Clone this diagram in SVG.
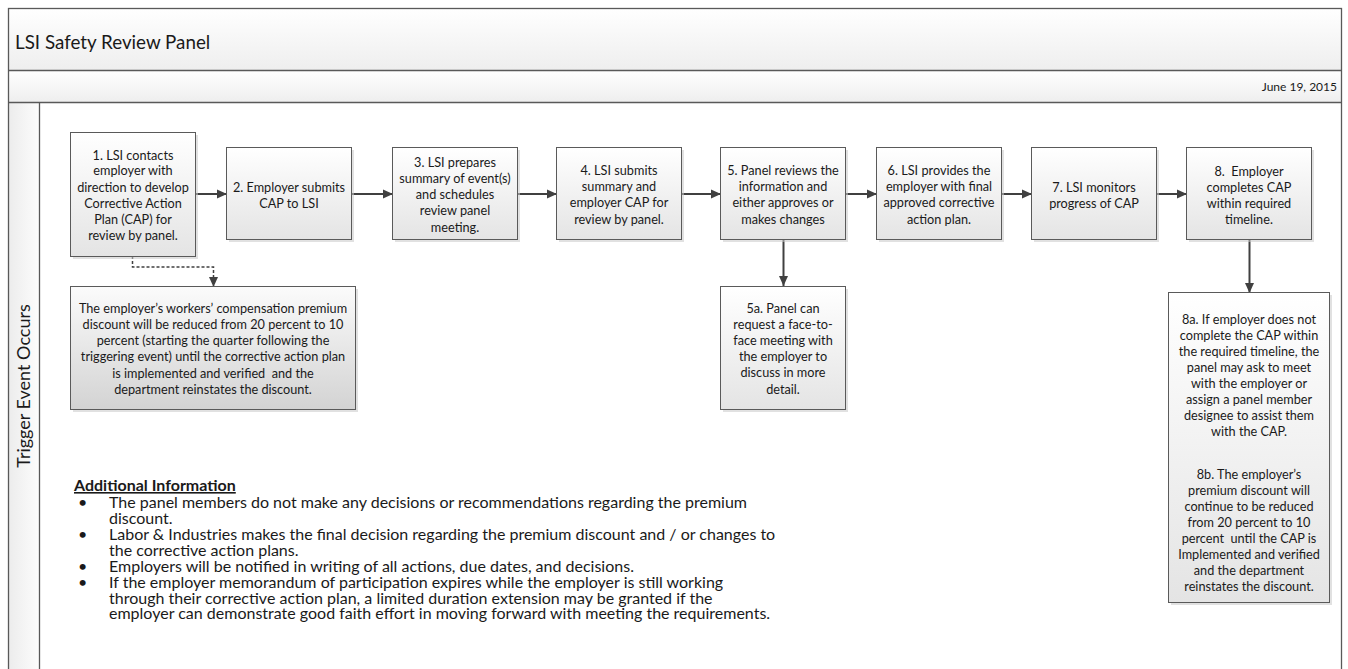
<svg xmlns="http://www.w3.org/2000/svg" width="1348" height="669" viewBox="0 0 1348 669">
<style>
.t{font-family:Lato,"Liberation Sans","Noto Sans",sans-serif;font-size:12.7px;fill:#1a1a1a;text-anchor:middle;white-space:pre}
.box{stroke:#5a5a5a;stroke-width:1;fill:url(#gBox)}
.shadow{fill:#c8c8c8;opacity:0.55}
.con{stroke:#404040;stroke-width:2;fill:none}
.info{font-family:Lato,"Liberation Sans","Noto Sans",sans-serif;font-size:16px;fill:#1a1a1a}
.pool{stroke:#595959;stroke-width:1.3;fill:none}
</style>
<defs>
<linearGradient id="gBox" x1="0" y1="0" x2="0" y2="1"><stop offset="0" stop-color="#ffffff"/><stop offset="1" stop-color="#e4e4e4"/></linearGradient>
<linearGradient id="gNote" x1="0" y1="0" x2="0" y2="1"><stop offset="0" stop-color="#fbfbfb"/><stop offset="1" stop-color="#d3d3d3"/></linearGradient>
<linearGradient id="gHead" x1="0" y1="0" x2="0" y2="1"><stop offset="0" stop-color="#ffffff"/><stop offset="1" stop-color="#eeeeee"/></linearGradient>
<linearGradient id="gLane" x1="0" y1="0" x2="1" y2="0"><stop offset="0" stop-color="#ececec"/><stop offset="1" stop-color="#fdfdfd"/></linearGradient>
<marker id="arr" viewBox="0 0 10 10" refX="10" refY="5" markerWidth="10" markerHeight="10" markerUnits="userSpaceOnUse" orient="auto"><path d="M0,0.5 L10,5 L0,9.5 z" fill="#404040"/></marker>
</defs>

<g id="pool">
<rect x="8.5" y="8.5" width="1333" height="62" fill="url(#gHead)"/>
<rect x="8.5" y="70.5" width="1333" height="32" fill="url(#gHead)"/>
<rect x="8.5" y="102.5" width="31" height="580" fill="url(#gLane)"/>
<rect x="8.5" y="8.5" width="1333" height="700" class="pool"/>
<line x1="8.5" y1="70.5" x2="1341.5" y2="70.5" class="pool"/>
<line x1="8.5" y1="102.5" x2="1341.5" y2="102.5" class="pool"/>
<line x1="39.5" y1="102.5" x2="39.5" y2="680" class="pool"/>
<text x="15" y="48.5" font-family="Lato,'Liberation Sans',sans-serif" font-size="18.8" fill="#1a1a1a">LSI Safety Review Panel</text>
<text x="1337" y="91" font-family="Lato,'Liberation Sans',sans-serif" font-size="12" fill="#1a1a1a" text-anchor="end">June 19, 2015</text>
<text transform="translate(29.5,386) rotate(-90)" font-family="Lato,'Liberation Sans',sans-serif" font-size="18" fill="#1a1a1a" text-anchor="middle">Trigger Event Occurs</text>
</g>

<g id="connectors">
<line x1="195.5" y1="194" x2="227" y2="194" class="con" marker-end="url(#arr)"/>
<line x1="352" y1="194" x2="393" y2="194" class="con" marker-end="url(#arr)"/>
<line x1="518" y1="194" x2="557" y2="194" class="con" marker-end="url(#arr)"/>
<line x1="682" y1="194" x2="721" y2="194" class="con" marker-end="url(#arr)"/>
<line x1="846" y1="194" x2="877" y2="194" class="con" marker-end="url(#arr)"/>
<line x1="1002" y1="194" x2="1032" y2="194" class="con" marker-end="url(#arr)"/>
<line x1="1157" y1="194" x2="1187" y2="194" class="con" marker-end="url(#arr)"/>
<line x1="783.5" y1="240" x2="783.5" y2="286" class="con" marker-end="url(#arr)"/>
<line x1="1249.5" y1="240" x2="1249.5" y2="293" class="con" marker-end="url(#arr)"/>
<path d="M132.5,256 V267 H213.5 V287" stroke="#404040" stroke-width="1.5" stroke-dasharray="3,2" fill="none" marker-end="url(#arr)"/>
</g>

<g id="n1"><rect class="shadow" x="73" y="135" width="125" height="124"/><rect class="box" x="70.5" y="132.5" width="125" height="124"/>
<text class="t"><tspan x="133" y="159.5">1. LSI contacts</tspan><tspan x="133" y="175">employer with</tspan><tspan x="133" y="191.5">direction to develop</tspan><tspan x="133" y="207.5">Corrective Action</tspan><tspan x="133" y="223.5">Plan (CAP) for</tspan><tspan x="133" y="239.5">review by panel.</tspan></text></g>

<g id="n2"><rect class="shadow" x="229" y="150" width="125" height="92"/><rect class="box" x="226.5" y="147.5" width="125" height="92"/>
<text class="t"><tspan x="289" y="191.5">2. Employer submits</tspan><tspan x="289" y="207.5">CAP to LSI</tspan></text></g>

<g id="n3"><rect class="shadow" x="395" y="150" width="125" height="92"/><rect class="box" x="392.5" y="147.5" width="125" height="92"/>
<text class="t"><tspan x="455" y="166.5">3. LSI prepares</tspan><tspan x="455" y="182.5">summary of event(s)</tspan><tspan x="455" y="199">and schedules</tspan><tspan x="455" y="215">review panel</tspan><tspan x="455" y="231.5">meeting.</tspan></text></g>

<g id="n4"><rect class="shadow" x="559" y="150" width="125" height="92"/><rect class="box" x="556.5" y="147.5" width="125" height="92"/>
<text class="t"><tspan x="619" y="174.5">4. LSI submits</tspan><tspan x="619" y="191">summary and</tspan><tspan x="619" y="207">employer CAP for</tspan><tspan x="619" y="223.5">review by panel.</tspan></text></g>

<g id="n5"><rect class="shadow" x="723" y="150" width="125" height="92"/><rect class="box" x="720.5" y="147.5" width="125" height="92"/>
<text class="t"><tspan x="783" y="174.5">5. Panel reviews the</tspan><tspan x="783" y="191">information and</tspan><tspan x="783" y="207">either approves or</tspan><tspan x="783" y="223.5">makes changes</tspan></text></g>

<g id="n6"><rect class="shadow" x="879" y="150" width="125" height="92"/><rect class="box" x="876.5" y="147.5" width="125" height="92"/>
<text class="t"><tspan x="939" y="174.5">6. LSI provides the</tspan><tspan x="939" y="191">employer with final</tspan><tspan x="939" y="207">approved corrective</tspan><tspan x="939" y="223.5">action plan.</tspan></text></g>

<g id="n7"><rect class="shadow" x="1034" y="150" width="125" height="92"/><rect class="box" x="1031.5" y="147.5" width="125" height="92"/>
<text class="t"><tspan x="1094" y="191.5">7. LSI monitors</tspan><tspan x="1094" y="207.5">progress of CAP</tspan></text></g>

<g id="n8"><rect class="shadow" x="1189" y="150" width="125" height="92"/><rect class="box" x="1186.5" y="147.5" width="125" height="92"/>
<text class="t"><tspan x="1249" y="175.5">8.  Employer</tspan><tspan x="1249" y="191.5">completes CAP</tspan><tspan x="1249" y="207.5">within required</tspan><tspan x="1249" y="224">timeline.</tspan></text></g>

<g id="n5a"><rect class="shadow" x="723" y="289" width="125" height="123"/><rect class="box" x="720.5" y="286.5" width="125" height="123"/>
<text class="t"><tspan x="783" y="312.5">5a. Panel can</tspan><tspan x="783" y="328.5">request a face-to-</tspan><tspan x="783" y="344.5">face meeting with</tspan><tspan x="783" y="361">the employer to</tspan><tspan x="783" y="377">discuss in more</tspan><tspan x="783" y="393.5">detail.</tspan></text></g>

<g id="note"><rect class="shadow" x="73" y="289" width="285" height="123"/><rect x="70.5" y="286.5" width="285" height="123" stroke="#5a5a5a" stroke-width="1" fill="url(#gNote)"/>
<text class="t"><tspan x="213" y="312.5">The employer’s workers’ compensation premium</tspan><tspan x="213" y="328.5">discount will be reduced from 20 percent to 10</tspan><tspan x="213" y="345">percent (starting the quarter following the</tspan><tspan x="213" y="361">triggering event) until the corrective action plan</tspan><tspan x="213" y="377.5">is implemented and verified  and the</tspan><tspan x="213" y="393.5">department reinstates the discount.</tspan></text></g>

<g id="n8a"><rect class="shadow" x="1171" y="295" width="161" height="310"/><rect class="box" x="1168.5" y="292.5" width="161" height="310"/>
<text class="t"><tspan x="1249" y="323.5">8a. If employer does not</tspan><tspan x="1249" y="339.5">complete the CAP within</tspan><tspan x="1249" y="355.5">the required timeline, the</tspan><tspan x="1249" y="371.5">panel may ask to meet</tspan><tspan x="1249" y="387.5">with the employer or</tspan><tspan x="1249" y="403.5">assign a panel member</tspan><tspan x="1249" y="419.5">designee to assist them</tspan><tspan x="1249" y="435.5">with the CAP.</tspan><tspan x="1249" y="478.5">8b. The employer’s</tspan><tspan x="1249" y="494.5">premium discount will</tspan><tspan x="1249" y="510.5">continue to be reduced</tspan><tspan x="1249" y="526.5">from 20 percent to 10</tspan><tspan x="1249" y="542.5">percent  until the CAP is</tspan><tspan x="1249" y="558.5">Implemented and verified</tspan><tspan x="1249" y="574.5">and the department</tspan><tspan x="1249" y="590.5">reinstates the discount.</tspan></text></g>

<g id="info">
<text class="info" x="74" y="491" font-weight="bold" text-decoration="underline">Additional Information</text>
<text class="info" x="78" y="508">•</text><text class="info" x="109" y="508">The panel members do not make any decisions or recommendations regarding the premium</text>
<text class="info" x="109" y="524">discount.</text>
<text class="info" x="78" y="540">•</text><text class="info" x="109" y="540">Labor &amp; Industries makes the final decision regarding the premium discount and / or changes to</text>
<text class="info" x="109" y="556">the corrective action plans.</text>
<text class="info" x="78" y="572">•</text><text class="info" x="109" y="572">Employers will be notified in writing of all actions, due dates, and decisions.</text>
<text class="info" x="78" y="588">•</text><text class="info" x="109" y="588">If the employer memorandum of participation expires while the employer is still working</text>
<text class="info" x="109" y="603.5">through their corrective action plan, a limited duration extension may be granted if the</text>
<text class="info" x="109" y="619">employer can demonstrate good faith effort in moving forward with meeting the requirements.</text>
</g>
</svg>
